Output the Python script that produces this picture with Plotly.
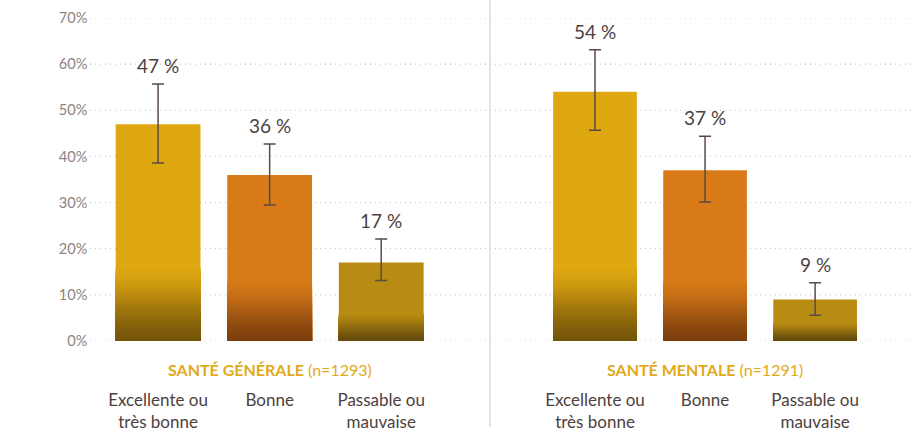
import plotly.graph_objects as go

categories = ["Excellente ou<br>très bonne", "Bonne", "Passable ou<br>mauvaise"]
groups = ["SANTÉ GÉNÉRALE", "SANTÉ MENTALE"]
group_n = ["(n=1293)", "(n=1291)"]
values_generale = [47, 36, 17]
err_plus_generale = [8.7, 6.7, 5.1]
err_minus_generale = [8.4, 6.5, 3.9]
values_mentale = [54, 37, 9]
err_plus_mentale = [9.1, 7.4, 3.6]
err_minus_mentale = [8.3, 6.9, 3.4]
yticks = [0, 10, 20, 30, 40, 50, 60, 70]

top_colors = [(224, 168, 16), (216, 122, 24), (184, 140, 18)]
bottom_colors = [(116, 84, 10), (124, 62, 14), (100, 74, 14)]
grad_heights = [[16, 13, 6], [16, 13, 4]]

FONT = "Lato"
TXT = "#4d4140"

fig = go.Figure()

series = [
    (values_generale, err_plus_generale, err_minus_generale, "x", "y"),
    (values_mentale, err_plus_mentale, err_minus_mentale, "x2", "y"),
]

def rgb(c):
    return "rgb(%d,%d,%d)" % c

N = 40
for gi, (vals, ep, em, xa, ya) in enumerate(series):
    fig.add_trace(go.Bar(x=categories, y=vals, xaxis=xa, yaxis=ya,
                         marker=dict(color=[rgb(c) for c in top_colors], line=dict(width=0)),
                         hoverinfo="skip", showlegend=False))
    # gradient overlay: nested bars from 0, each shorter and darker
    for k in range(N):
        frac = 1 - k / N
        cols = []
        hs = []
        for ci in range(3):
            h = min(grad_heights[gi][ci], vals[ci])
            hs.append(h * frac)
            tt = frac - 0.5 / N
            tt = tt * tt * (3 - 2 * tt) * 0.5 + tt * 0.5
            c = tuple(int(round(bottom_colors[ci][j] + (top_colors[ci][j] - bottom_colors[ci][j]) * tt)) for j in range(3))
            cols.append(rgb(c))
        fig.add_trace(go.Bar(x=categories, y=hs, xaxis=xa, yaxis=ya,
                             marker=dict(color=cols, line=dict(width=0)),
                             hoverinfo="skip", showlegend=False))
    fig.add_trace(go.Scatter(x=categories, y=vals, xaxis=xa, yaxis=ya, mode="markers",
                             marker=dict(size=1, opacity=0),
                             error_y=dict(type="data", symmetric=False, array=ep, arrayminus=em,
                                          color="#5a4a45", thickness=1.5, width=6),
                             hoverinfo="skip", showlegend=False))
    for cat, v, e in zip(categories, vals, ep):
        fig.add_annotation(x=cat, y=v + e, xref=xa, yref=ya, text="%d %%" % v,
                           showarrow=False, yanchor="bottom", xanchor="center", yshift=5,
                           font=dict(family=FONT, size=19, color=TXT))

# gridlines
for v in yticks:
    fig.add_shape(type="line", xref="paper", yref="y", x0=0, x1=1, y0=v, y1=v,
                  line=dict(color="#cdc6c6", width=1.2, dash="1px,4px"), layer="below")

# divider
fig.add_shape(type="line", xref="paper", yref="paper", x0=0.5053, x1=0.5053, y0=-0.266, y1=1.06,
              line=dict(color="#e2dada", width=1.5))

for gi, xa in enumerate(["x", "x2"]):
    fig.add_annotation(xref=xa + " domain", yref="paper", x=0.5, y=-0.087,
                       text="<b>%s</b> %s" % (groups[gi], group_n[gi]), showarrow=False,
                       font=dict(family=FONT, size=16, color="#e1aa1a"),
                       xanchor="center", yanchor="middle")

xcommon = dict(type="category", showgrid=False, zeroline=False, showline=False, ticks="",
               tickfont=dict(family=FONT, size=17, color=TXT), ticklabelstandoff=47,
               automargin=False, fixedrange=True)
fig.update_layout(
    width=911, height=433,
    margin=dict(l=60, r=0, t=18, b=92, autoexpand=False),
    paper_bgcolor="white", plot_bgcolor="white",
    barmode="overlay", bargap=0.24,
    showlegend=False,
    xaxis=dict(domain=[0.0497, 0.443], **xcommon),
    xaxis2=dict(domain=[0.564, 0.952], anchor="y", **xcommon),
    yaxis=dict(range=[0, 70], tickvals=yticks, ticktext=["%d%%" % v for v in yticks],
               showgrid=False, zeroline=False, showline=False, automargin=False,
               tickfont=dict(family=FONT, size=14.5, color="#8e8381"),
               ticklabelstandoff=14, fixedrange=True),
)

fig.write_html("out.html", config={"displayModeBar": False},
               post_script="document.body.style.margin='0px';document.body.style.overflow='hidden';")
